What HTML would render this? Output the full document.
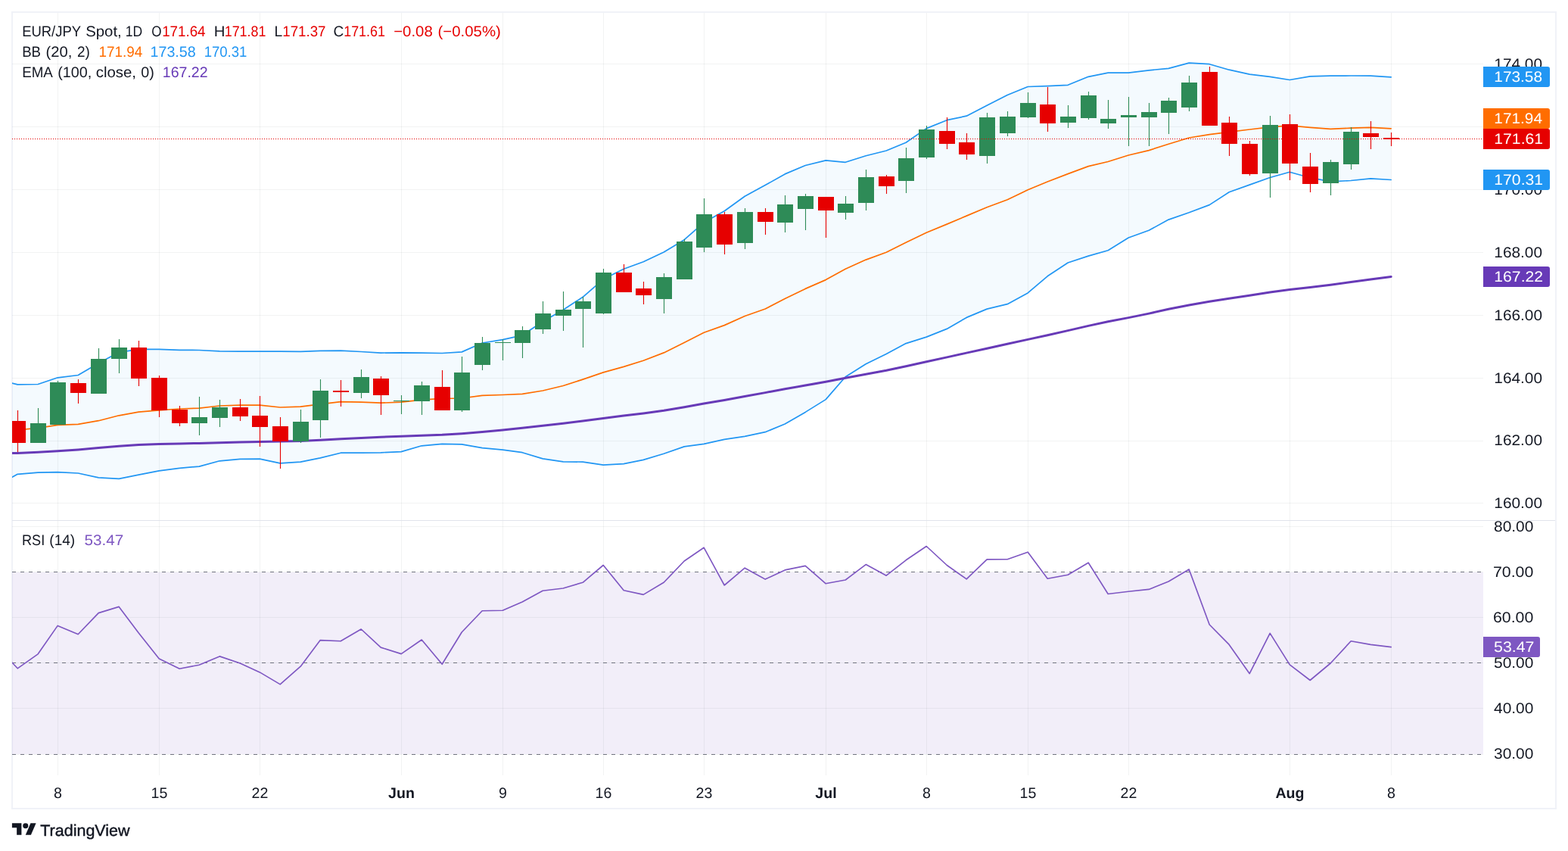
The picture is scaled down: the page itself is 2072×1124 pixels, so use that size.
<!DOCTYPE html>
<html lang="en">
<head>
<meta charset="utf-8">
<title>EUR/JPY Spot, 1D</title>
<style>html,body{margin:0;padding:0;background:#fff;}svg{display:block;}</style>
</head>
<body>
<svg width="2072" height="1124" viewBox="0 0 2072 1124" font-family="'Liberation Sans', Arial, Helvetica, sans-serif" text-rendering="geometricPrecision">
<defs>
<clipPath id="cm"><rect x="16" y="17" width="1944" height="670"/></clipPath>
<clipPath id="cr"><rect x="16" y="688" width="1944" height="336"/></clipPath>
</defs>
<rect width="2072" height="1124" fill="#fff"/>
<rect x="16" y="16" width="2040" height="1052" fill="none" stroke="#f0f2f8" stroke-width="2"/>
<rect x="16" y="756" width="1944" height="240" fill="#7e57c2" fill-opacity="0.1"/>
<path d="M76.5 17V1024M210.5 17V1024M343.5 17V1024M530.5 17V1024M664.5 17V1024M797.5 17V1024M930.5 17V1024M1091.5 17V1024M1224.5 17V1024M1358.5 17V1024M1491.5 17V1024M1704.5 17V1024M1838.5 17V1024M16 84.5H1960M16 167.5H1960M16 250.5H1960M16 333.5H1960M16 416.5H1960M16 499.5H1960M16 582.5H1960M16 664.5H1960M16 695.5H1960M16 755.5H1960M16 815.5H1960M16 875.5H1960M16 935.5H1960M16 996.5H1960" stroke="#2a2e39" stroke-opacity="0.06" stroke-width="1" fill="none"/>
<g clip-path="url(#cm)">
<path d="M-3.8 500.8L23.2 507.9L50.2 507.5L76.2 498.8L103.2 495.5L130.2 479.8L157.2 465.3L183.2 461.4L210.2 461.4L237.2 462.3L263.2 462.5L290.2 463.9L317.2 464.1L343.2 464.1L370.2 464.1L397.2 464.3L423.2 463.4L450.2 463.2L477.2 464.5L503.2 466.1L530.2 465.8L557.2 466.2L584.2 466.5L610.2 464.9L637.2 453.0L664.2 448.7L690.2 442.8L717.2 424.8L744.2 409.3L770.2 392.3L797.2 368.8L824.2 355.3L850.2 345.7L877.2 332.9L904.2 316.7L930.2 293.8L957.2 278.7L984.2 259.2L1011.2 244.6L1037.2 229.9L1064.2 218.5L1091.2 211.9L1117.2 214.3L1144.2 205.7L1171.2 199.0L1197.2 188.2L1224.2 169.6L1251.2 158.7L1277.2 153.2L1304.2 139.2L1331.2 125.5L1358.2 114.5L1384.2 113.7L1411.2 112.3L1438.2 101.3L1464.2 96.1L1491.2 96.1L1518.2 92.8L1544.2 90.4L1571.2 83.1L1598.2 84.7L1624.2 92.2L1651.2 98.2L1678.2 101.3L1704.2 105.5L1731.2 100.9L1758.2 100.2L1785.2 100.0L1811.2 100.2L1838.2 101.9L1838.2 237.5L1811.2 235.9L1785.2 238.5L1758.2 239.9L1731.2 234.7L1704.2 227.2L1678.2 234.5L1651.2 244.1L1624.2 253.8L1598.2 270.6L1571.2 280.8L1544.2 290.1L1518.2 304.3L1491.2 314.0L1464.2 330.7L1438.2 338.1L1411.2 347.0L1384.2 364.8L1358.2 386.9L1331.2 401.7L1304.2 408.1L1277.2 419.4L1251.2 434.4L1224.2 445.1L1197.2 453.6L1171.2 467.4L1144.2 480.7L1117.2 497.7L1091.2 527.6L1064.2 544.4L1037.2 560.0L1011.2 570.7L984.2 576.4L957.2 580.4L930.2 586.3L904.2 589.9L877.2 599.2L850.2 607.4L824.2 612.7L797.2 614.1L770.2 610.1L744.2 609.8L717.2 605.9L690.2 597.7L664.2 594.2L637.2 591.6L610.2 586.8L584.2 586.3L557.2 588.8L530.2 596.6L503.2 597.8L477.2 598.2L450.2 598.2L423.2 604.9L397.2 610.2L370.2 611.9L343.2 606.2L317.2 606.4L290.2 608.8L263.2 616.1L237.2 618.3L210.2 621.9L183.2 627.2L157.2 632.3L130.2 630.8L103.2 625.0L76.2 623.7L50.2 624.1L23.2 626.3L-3.8 641.3Z" fill="#2196f3" fill-opacity="0.05"/>
<path d="M-3.8 500.8L23.2 507.9L50.2 507.5L76.2 498.8L103.2 495.5L130.2 479.8L157.2 465.3L183.2 461.4L210.2 461.4L237.2 462.3L263.2 462.5L290.2 463.9L317.2 464.1L343.2 464.1L370.2 464.1L397.2 464.3L423.2 463.4L450.2 463.2L477.2 464.5L503.2 466.1L530.2 465.8L557.2 466.2L584.2 466.5L610.2 464.9L637.2 453.0L664.2 448.7L690.2 442.8L717.2 424.8L744.2 409.3L770.2 392.3L797.2 368.8L824.2 355.3L850.2 345.7L877.2 332.9L904.2 316.7L930.2 293.8L957.2 278.7L984.2 259.2L1011.2 244.6L1037.2 229.9L1064.2 218.5L1091.2 211.9L1117.2 214.3L1144.2 205.7L1171.2 199.0L1197.2 188.2L1224.2 169.6L1251.2 158.7L1277.2 153.2L1304.2 139.2L1331.2 125.5L1358.2 114.5L1384.2 113.7L1411.2 112.3L1438.2 101.3L1464.2 96.1L1491.2 96.1L1518.2 92.8L1544.2 90.4L1571.2 83.1L1598.2 84.7L1624.2 92.2L1651.2 98.2L1678.2 101.3L1704.2 105.5L1731.2 100.9L1758.2 100.2L1785.2 100.0L1811.2 100.2L1838.2 101.9" stroke="#2196f3" stroke-width="1.7" fill="none" stroke-linejoin="round" stroke-linecap="round"/>
<path d="M-3.8 641.3L23.2 626.3L50.2 624.1L76.2 623.7L103.2 625.0L130.2 630.8L157.2 632.3L183.2 627.2L210.2 621.9L237.2 618.3L263.2 616.1L290.2 608.8L317.2 606.4L343.2 606.2L370.2 611.9L397.2 610.2L423.2 604.9L450.2 598.2L477.2 598.2L503.2 597.8L530.2 596.6L557.2 588.8L584.2 586.3L610.2 586.8L637.2 591.6L664.2 594.2L690.2 597.7L717.2 605.9L744.2 609.8L770.2 610.1L797.2 614.1L824.2 612.7L850.2 607.4L877.2 599.2L904.2 589.9L930.2 586.3L957.2 580.4L984.2 576.4L1011.2 570.7L1037.2 560.0L1064.2 544.4L1091.2 527.6L1117.2 497.7L1144.2 480.7L1171.2 467.4L1197.2 453.6L1224.2 445.1L1251.2 434.4L1277.2 419.4L1304.2 408.1L1331.2 401.7L1358.2 386.9L1384.2 364.8L1411.2 347.0L1438.2 338.1L1464.2 330.7L1491.2 314.0L1518.2 304.3L1544.2 290.1L1571.2 280.8L1598.2 270.6L1624.2 253.8L1651.2 244.1L1678.2 234.5L1704.2 227.2L1731.2 234.7L1758.2 239.9L1785.2 238.5L1811.2 235.9L1838.2 237.5" stroke="#2196f3" stroke-width="1.7" fill="none" stroke-linejoin="round" stroke-linecap="round"/>
<path d="M-3.8 569.8L23.2 567.8L50.2 565.3L76.2 561.3L103.2 560.4L130.2 555.7L157.2 548.8L183.2 544.2L210.2 541.8L237.2 540.0L263.2 539.1L290.2 536.0L317.2 535.1L343.2 535.1L370.2 538.0L397.2 537.1L423.2 533.8L450.2 530.7L477.2 531.1L503.2 532.2L530.2 531.1L557.2 528.2L584.2 526.4L610.2 526.0L637.2 522.3L664.2 521.5L690.2 520.3L717.2 516.0L744.2 509.5L770.2 501.1L797.2 491.9L824.2 484.4L850.2 476.3L877.2 465.9L904.2 452.5L930.2 439.3L957.2 429.6L984.2 417.5L1011.2 408.0L1037.2 394.5L1064.2 381.4L1091.2 369.6L1117.2 355.3L1144.2 343.1L1171.2 333.3L1197.2 320.3L1224.2 307.2L1251.2 296.1L1277.2 285.1L1304.2 273.8L1331.2 263.8L1358.2 250.8L1384.2 240.0L1411.2 229.6L1438.2 219.6L1464.2 213.5L1491.2 205.0L1518.2 198.6L1544.2 190.2L1571.2 182.0L1598.2 177.6L1624.2 174.3L1651.2 171.0L1678.2 167.9L1704.2 165.9L1731.2 168.3L1758.2 170.3L1785.2 169.2L1811.2 168.3L1838.2 169.8" stroke="#ff6d00" stroke-width="1.7" fill="none" stroke-linejoin="round" stroke-linecap="round"/>
<path d="M-3.8 599.2L23.2 598.4L50.2 597.2L76.2 595.8L103.2 593.9L130.2 591.6L157.2 589.2L183.2 587.5L210.2 586.5L237.2 586.0L263.2 585.4L290.2 584.7L317.2 583.9L343.2 583.4L370.2 583.0L397.2 582.4L423.2 581.2L450.2 579.8L477.2 578.6L503.2 577.3L530.2 576.2L557.2 575.3L584.2 574.3L610.2 572.7L637.2 570.5L664.2 567.9L690.2 565.2L717.2 562.2L744.2 559.2L770.2 555.9L797.2 552.4L824.2 549.1L850.2 545.9L877.2 542.2L904.2 537.8L930.2 533.1L957.2 528.4L984.2 523.6L1011.2 518.6L1037.2 513.8L1064.2 509.1L1091.2 504.3L1117.2 499.2L1144.2 494.2L1171.2 489.2L1197.2 483.7L1224.2 477.8L1251.2 471.9L1277.2 466.1L1304.2 460.2L1331.2 454.3L1358.2 448.4L1384.2 442.7L1411.2 436.6L1438.2 430.4L1464.2 424.8L1491.2 419.6L1518.2 414.1L1544.2 408.3L1571.2 403.0L1598.2 398.3L1624.2 394.3L1651.2 390.2L1678.2 385.9L1704.2 382.4L1731.2 379.5L1758.2 376.3L1785.2 372.6L1811.2 368.9L1838.2 365.4" stroke="#673ab7" stroke-width="3" fill="none" stroke-linejoin="round" stroke-linecap="round"/>
<path d="M22.95 542h1.1V597h-1.1zM13.0 556h21V585h-21zM102.95 501h1.1V533h-1.1zM93.0 506h21V519h-21zM182.95 450h1.1V510h-1.1zM173.0 459h21V500h-21zM209.95 496h1.1V551h-1.1zM200.0 499h21V542h-21zM236.95 536h1.1V563h-1.1zM227.0 541h21V559h-21zM316.95 527h1.1V556h-1.1zM307.0 538h21V550h-21zM342.95 523h1.1V590h-1.1zM333.0 549h21V564h-21zM369.95 551h1.1V619h-1.1zM360.0 563h21V583h-21zM449.95 502h1.1V537h-1.1zM440.0 516h21V518h-21zM502.95 497h1.1V548h-1.1zM493.0 500h21V522h-21zM583.95 489h1.1V542h-1.1zM574.0 511h21V542h-21zM823.95 349h1.1V386h-1.1zM814.0 360h21V386h-21zM849.95 372h1.1V402h-1.1zM840.0 381h21V390h-21zM956.95 280h1.1V336h-1.1zM947.0 283h21V323h-21zM1010.95 275h1.1V310h-1.1zM1001.0 280h21V293h-21zM1090.95 260h1.1V314h-1.1zM1081.0 260h21V278h-21zM1170.95 231h1.1V256h-1.1zM1161.0 233h21V246h-21zM1250.95 155h1.1V197h-1.1zM1241.0 173h21V190h-21zM1276.95 176h1.1V211h-1.1zM1267.0 188h21V204h-21zM1383.95 115h1.1V174h-1.1zM1374.0 138h21V163h-21zM1597.95 88h1.1V166h-1.1zM1588.0 95h21V166h-21zM1623.95 154h1.1V206h-1.1zM1614.0 162h21V190h-21zM1650.95 186h1.1V232h-1.1zM1641.0 190h21V230h-21zM1703.95 151h1.1V238h-1.1zM1694.0 164h21V216h-21zM1730.95 202h1.1V254h-1.1zM1721.0 220h21V243h-21zM1810.95 160h1.1V197h-1.1zM1801.0 176h21V181h-21zM1837.95 175h1.1V193h-1.1zM1828.0 182h21V184h-21z" fill="#e60000"/>
<path d="M49.95 539h1.1V585h-1.1zM40.0 559h21V585h-21zM75.95 503h1.1V561h-1.1zM66.0 505h21V561h-21zM129.95 460h1.1V520h-1.1zM120.0 474h21V520h-21zM156.95 448h1.1V493h-1.1zM147.0 459h21V474h-21zM262.95 524h1.1V575h-1.1zM253.0 551h21V559h-21zM289.95 528h1.1V564h-1.1zM280.0 538h21V552h-21zM396.95 541h1.1V585h-1.1zM387.0 557h21V583h-21zM422.95 501h1.1V578h-1.1zM413.0 516h21V555h-21zM476.95 488h1.1V526h-1.1zM467.0 498h21V519h-21zM529.95 522h1.1V547h-1.1zM520.0 529h21V530h-21zM556.95 504h1.1V548h-1.1zM547.0 509h21V530h-21zM609.95 471h1.1V544h-1.1zM600.0 492h21V542h-21zM636.95 445h1.1V489h-1.1zM627.0 453h21V482h-21zM663.95 448h1.1V476h-1.1zM654.0 452h21V453h-21zM689.95 431h1.1V473h-1.1zM680.0 436h21V453h-21zM716.95 398h1.1V441h-1.1zM707.0 414h21V435h-21zM743.95 385h1.1V437h-1.1zM734.0 409h21V417h-21zM769.95 392h1.1V459h-1.1zM760.0 398h21V408h-21zM796.95 355h1.1V415h-1.1zM787.0 360h21V414h-21zM876.95 361h1.1V414h-1.1zM867.0 366h21V395h-21zM903.95 316h1.1V369h-1.1zM894.0 319h21V369h-21zM929.95 262h1.1V333h-1.1zM920.0 283h21V327h-21zM983.95 275h1.1V329h-1.1zM974.0 280h21V321h-21zM1036.95 258h1.1V307h-1.1zM1027.0 270h21V294h-21zM1063.95 256h1.1V304h-1.1zM1054.0 259h21V276h-21zM1116.95 259h1.1V290h-1.1zM1107.0 269h21V281h-21zM1143.95 224h1.1V278h-1.1zM1134.0 234h21V268h-21zM1196.95 195h1.1V255h-1.1zM1187.0 209h21V239h-21zM1223.95 166h1.1V210h-1.1zM1214.0 171h21V208h-21zM1303.95 149h1.1V216h-1.1zM1294.0 155h21V206h-21zM1330.95 147h1.1V180h-1.1zM1321.0 154h21V176h-21zM1357.95 122h1.1V156h-1.1zM1348.0 136h21V155h-21zM1410.95 139h1.1V169h-1.1zM1401.0 154h21V162h-21zM1437.95 121h1.1V158h-1.1zM1428.0 126h21V156h-21zM1463.95 132h1.1V170h-1.1zM1454.0 157h21V163h-21zM1490.95 128h1.1V193h-1.1zM1481.0 152h21V155h-21zM1517.95 136h1.1V193h-1.1zM1508.0 148h21V155h-21zM1543.95 129h1.1V177h-1.1zM1534.0 133h21V149h-21zM1570.95 100h1.1V147h-1.1zM1561.0 109h21V142h-21zM1677.95 153h1.1V261h-1.1zM1668.0 165h21V229h-21zM1757.95 211h1.1V258h-1.1zM1748.0 214h21V242h-21zM1784.95 168h1.1V224h-1.1zM1775.0 174h21V217h-21z" fill="#2e8b57"/>
<path d="M16 183.5H1960" stroke="#e60000" stroke-width="1.15" stroke-dasharray="1.1 1.9" fill="none"/>
</g>
<g clip-path="url(#cr)">
<path d="M16 755.5H1960" stroke="#70737e" stroke-width="1.15" stroke-dasharray="5 6" fill="none"/>
<path d="M16 875.5H1960" stroke="#70737e" stroke-width="1.15" stroke-dasharray="5 6" fill="none"/>
<path d="M16 996.5H1960" stroke="#70737e" stroke-width="1.15" stroke-dasharray="5 6" fill="none"/>
<path d="M-3.8 854.1L23.2 882.8L50.2 863.8L76.2 826.4L103.2 837.7L130.2 809.6L157.2 801.4L183.2 835.9L210.2 870.0L237.2 883.3L263.2 878.2L290.2 866.9L317.2 876.0L343.2 887.9L370.2 903.9L397.2 880.2L423.2 845.6L450.2 846.8L477.2 831.0L503.2 855.1L530.2 863.6L557.2 845.0L584.2 877.3L610.2 835.0L637.2 806.7L664.2 806.3L690.2 794.9L717.2 780.3L744.2 777.0L770.2 769.3L797.2 746.5L824.2 779.7L850.2 785.4L877.2 769.3L904.2 741.0L930.2 723.3L957.2 773.0L984.2 750.2L1011.2 765.1L1037.2 752.9L1064.2 747.4L1091.2 770.8L1117.2 766.0L1144.2 745.6L1171.2 760.2L1197.2 739.8L1224.2 721.5L1251.2 746.5L1277.2 764.8L1304.2 738.9L1331.2 738.7L1358.2 729.2L1384.2 764.2L1411.2 759.3L1438.2 743.2L1464.2 784.5L1491.2 781.2L1518.2 778.4L1544.2 768.0L1571.2 752.0L1598.2 825.0L1624.2 851.4L1651.2 889.7L1678.2 836.4L1704.2 877.9L1731.2 898.5L1758.2 876.0L1785.2 846.8L1811.2 851.4L1838.2 854.6" stroke="#7e57c2" stroke-width="1.65" fill="none" stroke-linejoin="round" stroke-linecap="round"/>
</g>
<path d="M16 687.5H2055" stroke="#e0e3eb" stroke-width="1" fill="none"/>
<g>
<text x="1974.34" y="91.2" font-size="19.6" fill="#131722" textLength="63.7" lengthAdjust="spacingAndGlyphs">174.00</text>
<text x="1974.34" y="174.2" font-size="19.6" fill="#131722" textLength="63.7" lengthAdjust="spacingAndGlyphs">172.00</text>
<text x="1974.34" y="257.2" font-size="19.6" fill="#131722" textLength="63.7" lengthAdjust="spacingAndGlyphs">170.00</text>
<text x="1974.34" y="340.2" font-size="19.6" fill="#131722" textLength="63.7" lengthAdjust="spacingAndGlyphs">168.00</text>
<text x="1974.34" y="423.2" font-size="19.6" fill="#131722" textLength="63.7" lengthAdjust="spacingAndGlyphs">166.00</text>
<text x="1974.34" y="506.2" font-size="19.6" fill="#131722" textLength="63.7" lengthAdjust="spacingAndGlyphs">164.00</text>
<text x="1974.34" y="588.4" font-size="19.6" fill="#131722" textLength="63.7" lengthAdjust="spacingAndGlyphs">162.00</text>
<text x="1974.34" y="671.2" font-size="19.6" fill="#131722" textLength="63.7" lengthAdjust="spacingAndGlyphs">160.00</text>
<text x="1974.0" y="702.2" font-size="19.6" fill="#131722" textLength="52.34" lengthAdjust="spacingAndGlyphs">80.00</text>
<text x="1972.91" y="762.2" font-size="19.6" fill="#131722" textLength="53.43" lengthAdjust="spacingAndGlyphs">70.00</text>
<text x="1972.91" y="822.2" font-size="19.6" fill="#131722" textLength="53.43" lengthAdjust="spacingAndGlyphs">60.00</text>
<text x="1974.0" y="882.2" font-size="19.6" fill="#131722" textLength="52.34" lengthAdjust="spacingAndGlyphs">50.00</text>
<text x="1974.0" y="942.2" font-size="19.6" fill="#131722" textLength="52.34" lengthAdjust="spacingAndGlyphs">40.00</text>
<text x="1974.0" y="1002.4" font-size="19.6" fill="#131722" textLength="52.34" lengthAdjust="spacingAndGlyphs">30.00</text>
</g>
<g>
<path d="M1960 88.0H2045a3 3 0 0 1 3 3V112.0a3 3 0 0 1 -3 3H1960z" fill="#2196f3"/>
<text x="1974.34" y="108.2" font-size="19.6" fill="#fff" textLength="63.7" lengthAdjust="spacingAndGlyphs">173.58</text>
<path d="M1960 143.0H2045a3 3 0 0 1 3 3V167.0a3 3 0 0 1 -3 3H1960z" fill="#ff6d00"/>
<text x="1974.34" y="163.2" font-size="19.6" fill="#fff" textLength="63.7" lengthAdjust="spacingAndGlyphs">171.94</text>
<path d="M1960 170.0H2045a3 3 0 0 1 3 3V194.0a3 3 0 0 1 -3 3H1960z" fill="#e60000"/>
<text x="1974.32" y="190.2" font-size="19.6" fill="#fff" textLength="64.8" lengthAdjust="spacingAndGlyphs">171.61</text>
<path d="M1960 224.0H2045a3 3 0 0 1 3 3V248.0a3 3 0 0 1 -3 3H1960z" fill="#2196f3"/>
<text x="1974.32" y="244.2" font-size="19.6" fill="#fff" textLength="64.8" lengthAdjust="spacingAndGlyphs">170.31</text>
<path d="M1960 352.0H2045a3 3 0 0 1 3 3V376.0a3 3 0 0 1 -3 3H1960z" fill="#673ab7"/>
<text x="1974.32" y="372.2" font-size="19.6" fill="#fff" textLength="64.8" lengthAdjust="spacingAndGlyphs">167.22</text>
<path d="M1960 841.0H2032a3 3 0 0 1 3 3V865.0a3 3 0 0 1 -3 3H1960z" fill="#7e57c2"/>
<text x="1974.1" y="861.2" font-size="19.6" fill="#fff" textLength="53.33" lengthAdjust="spacingAndGlyphs">53.47</text>
</g>
<g font-size="19.6" text-anchor="middle" fill="#131722">
<text x="76.5" y="1054.2">8</text>
<text x="210.5" y="1054.2">15</text>
<text x="343.5" y="1054.2">22</text>
<text x="530.5" y="1054.2" font-weight="700">Jun</text>
<text x="664.5" y="1054.2">9</text>
<text x="797.5" y="1054.2">16</text>
<text x="930.5" y="1054.2">23</text>
<text x="1091.5" y="1054.2" font-weight="700">Jul</text>
<text x="1224.5" y="1054.2">8</text>
<text x="1358.5" y="1054.2">15</text>
<text x="1491.5" y="1054.2">22</text>
<text x="1704.5" y="1054.2" font-weight="700">Aug</text>
<text x="1838.5" y="1054.2">8</text>
</g>
<g font-size="19.6" fill="#131722">
<text y="48"><tspan x="29.16" textLength="77.55" lengthAdjust="spacingAndGlyphs">EUR/JPY</tspan> <tspan x="113.2" textLength="47.55" lengthAdjust="spacingAndGlyphs">Spot,</tspan> <tspan x="165.7" textLength="22.48" lengthAdjust="spacingAndGlyphs">1D</tspan>  <tspan x="200.2" textLength="13.26" lengthAdjust="spacingAndGlyphs">O</tspan><tspan x="214.14" textLength="57.41" lengthAdjust="spacingAndGlyphs" fill="#e60000">171.64</tspan>  <tspan x="282.86" textLength="14.68" lengthAdjust="spacingAndGlyphs">H</tspan><tspan x="296.69" textLength="54.68" lengthAdjust="spacingAndGlyphs" fill="#e60000">171.81</tspan>  <tspan x="362.51" textLength="10.73" lengthAdjust="spacingAndGlyphs">L</tspan><tspan x="373.24" textLength="57.26" lengthAdjust="spacingAndGlyphs" fill="#e60000">171.37</tspan>  <tspan x="440.53" textLength="13.77" lengthAdjust="spacingAndGlyphs">C</tspan><tspan x="454.19" textLength="54.78" lengthAdjust="spacingAndGlyphs" fill="#e60000">171.61</tspan>  <tspan x="520.2" textLength="51.54" lengthAdjust="spacingAndGlyphs" fill="#e60000">−0.08</tspan> <tspan x="578.56" textLength="83.24" lengthAdjust="spacingAndGlyphs" fill="#e60000">(−0.05%)</tspan></text>
<text y="75"><tspan x="29.15" textLength="24.87" lengthAdjust="spacingAndGlyphs">BB</tspan> <tspan x="60.57" textLength="34.87" lengthAdjust="spacingAndGlyphs">(20,</tspan> <tspan x="102.0" textLength="16.86" lengthAdjust="spacingAndGlyphs">2)</tspan>  <tspan x="130.54" textLength="57.71" lengthAdjust="spacingAndGlyphs" fill="#ff6d00">171.94</tspan>  <tspan x="198.6" textLength="60.05" lengthAdjust="spacingAndGlyphs" fill="#2196f3">173.58</tspan>  <tspan x="269.65" textLength="56.75" lengthAdjust="spacingAndGlyphs" fill="#2196f3">170.31</tspan></text>
<text y="102"><tspan x="29.16" textLength="39.71" lengthAdjust="spacingAndGlyphs">EMA</tspan> <tspan x="76.19" textLength="45.12" lengthAdjust="spacingAndGlyphs">(100,</tspan> <tspan x="126.7" textLength="53.35" lengthAdjust="spacingAndGlyphs">close,</tspan> <tspan x="186.2" textLength="17.58" lengthAdjust="spacingAndGlyphs">0)</tspan>  <tspan x="214.8" textLength="59.74" lengthAdjust="spacingAndGlyphs" fill="#673ab7">167.22</tspan></text>
<text y="720"><tspan x="29.08" textLength="30.1" lengthAdjust="spacingAndGlyphs">RSI</tspan> <tspan x="65.33" textLength="33.83" lengthAdjust="spacingAndGlyphs">(14)</tspan>  <tspan x="111.5" textLength="51.7" lengthAdjust="spacingAndGlyphs" fill="#7e57c2">53.47</tspan></text>
</g>
<g transform="translate(15.9 1083.86) scale(0.893 0.861)" fill="#131722"><path d="M14 22H7V11H0V4h14v18z"/><circle cx="20" cy="8" r="4"/><path d="M28 22h-8l7.5-18h8L28 22z"/></g>
<text x="53.3" y="1103.8" font-size="21" fill="#131722" stroke="#131722" stroke-width="0.45" textLength="118.2" lengthAdjust="spacingAndGlyphs">TradingView</text>
</svg>
</body>
</html>
